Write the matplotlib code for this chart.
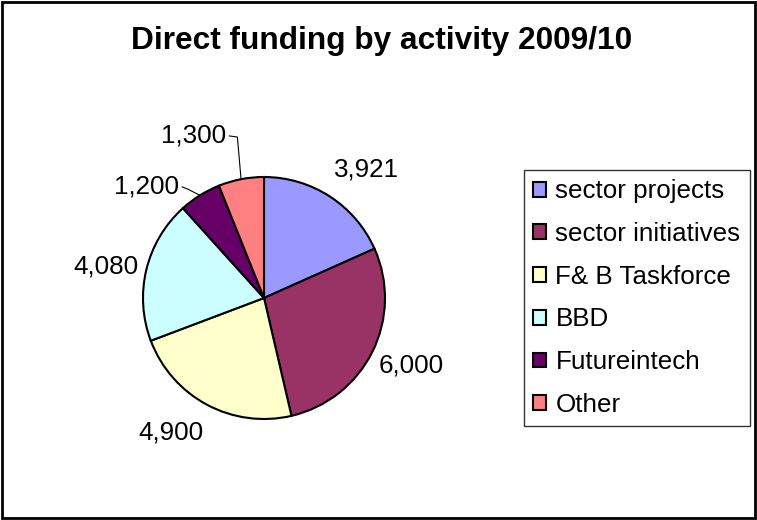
#!/usr/bin/env python3
# -*- coding: utf-8 -*-
"""Direct funding by activity 2009/10 -- pie chart with outside value labels."""

import matplotlib
matplotlib.use("Agg")
import matplotlib.pyplot as plt
import numpy as np
from matplotlib.patches import Rectangle

# ───────────── data ─────────────
TITLE = "Direct funding by activity 2009/10"
activities = ["sector projects", "sector initiatives", "F& B Taskforce",
              "BBD", "Futureintech", "Other"]
funding = [3921, 6000, 4900, 4080, 1200, 1300]
colors = ["#9999FF", "#993366", "#FFFFCC", "#CCFFFF", "#660066", "#FF8080"]

# label placement (pie units, radius = 1) and leader-line elbows (None = no leader)
label_pos = [(0.85, 1.06), (1.22, -0.56), (-0.77, -1.11),
             (-1.31, 0.26), (-0.70, 0.92), (-0.31, 1.34)]
label_ha = ["center", "center", "center", "center", "right", "right"]
elbows = [None, None, None, None, (-0.63, 0.90), (-0.22, 1.33)]
# ────────────────────────────────

W, H, DPI = 757, 520, 100
CX, CY, R_PX = 264, 298, 121   # pie centre / radius in pixels

plt.rcParams["font.family"] = ["Liberation Sans", "DejaVu Sans"]

fig = plt.figure(figsize=(W / DPI, H / DPI), dpi=DPI)
ax = fig.add_axes([0, 0, 1, 1])

wedges, _ = ax.pie(
    funding,
    colors=colors,
    startangle=90,
    counterclock=False,
    radius=1.0,
    wedgeprops=dict(edgecolor="black", linewidth=1.5),
)

# axis limits so 1 pie unit == R_PX pixels, centred at (CX, CY)
ax.set_xlim(-CX / R_PX, (W - CX) / R_PX)
ax.set_ylim((CY - H) / R_PX, CY / R_PX)
ax.set_aspect("auto")
ax.axis("off")

# value labels + leader lines
for w, v, (lx, ly), ha, elb in zip(wedges, funding, label_pos, label_ha, elbows):
    ax.text(lx, ly, f"{v:,}", ha=ha, va="center", fontsize=18.7, color="black")
    if elb is not None:
        mid = np.deg2rad((w.theta1 + w.theta2) / 2)
        ex, ey = np.cos(mid), np.sin(mid)
        ax.plot([lx + 0.02, elb[0], ex], [ly, elb[1], ey],
                color="black", lw=0.8, solid_capstyle="butt")

fig.text(382 / W, 1 - 41 / H, TITLE, ha="center", va="center",
         fontsize=22.8, fontweight="bold")

leg = ax.legend(
    wedges, activities,
    loc="upper left",
    bbox_to_anchor=(524 / W, 1 - 170 / H),
    bbox_transform=fig.transFigure,
    borderaxespad=0,
    fontsize=18.7,
    frameon=True,
    fancybox=False,
    handlelength=0.5,
    handleheight=0.5,
    handletextpad=0.35,
    labelspacing=0.72,
    borderpad=0.36,
)
leg.get_frame().set_edgecolor("black")
leg.get_frame().set_linewidth(1.0)
for h in leg.legend_handles:
    h.set_linewidth(1.5)

# outer chart border
fig.patches.append(Rectangle((0.002, 0.003), 0.995, 0.994, transform=fig.transFigure,
                             fill=False, edgecolor="black", linewidth=2))

fig.savefig("out.png", dpi=DPI)
